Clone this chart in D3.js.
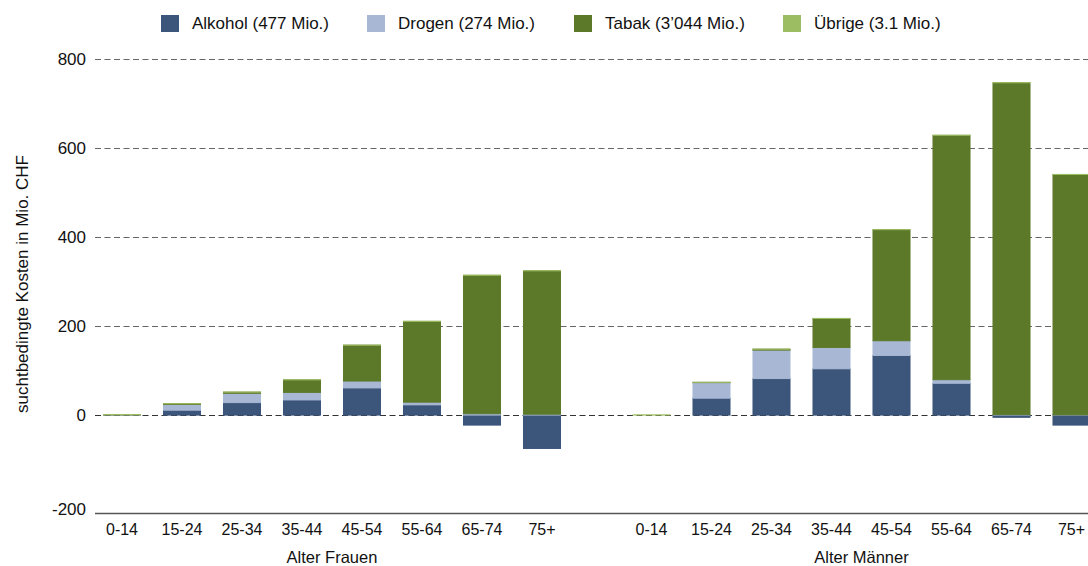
<!DOCTYPE html>
<html>
<head>
<meta charset="utf-8">
<script src="https://cdn.jsdelivr.net/npm/d3@7"></script>
<style>
  body { margin: 0; background: #fff; }
  text { font-family: "Liberation Sans", Arial, Helvetica, sans-serif; fill: #111; }
</style>
</head>
<body>
<div id="chart"></div>
<script>

var ages = ['0-14', '15-24', '25-34', '35-44', '45-54', '55-64', '65-74', '75+'];
var groups = ['Alter Frauen', 'Alter Männer'];
var seriesNames = ['Alkohol (477 Mio.)', 'Drogen (274 Mio.)', 'Tabak (3\u2019044 Mio.)', 'Übrige (3.1 Mio.)'];
var seriesKeys = ['alkohol', 'drogen', 'tabak', 'uebrige'];
var seriesColors = ['#3b557b', '#a8b8d4', '#5c7829', '#9dbd62'];
var yTicks = [-200, 0, 200, 400, 600, 800];

// women first (8 values), then men (8 values)
var alkohol = [0, 11, 28, 34, 61, 23, -22.5, -75,   0, 38, 82, 104, 134, 71.5, -5, -22.5];
var drogen  = [0.3, 13, 21, 17, 15.5, 6, 3, 2,      0, 35, 64, 48, 33, 8, 1, 0.5];
var tabak   = [0.8, 1.5, 2.5, 28, 80.5, 181.5, 311, 322,   0, 0.5, 2, 65, 249.5, 549, 745.5, 540];
var uebrige = [0.2, 0.2, 0.2, 0.2, 0.2, 0.2, 0.2, 0.2,     0.5, 0.2, 0.3, 0.2, 0.2, 0.2, 0.2, 0.2];

var width = 1088;
var height = 566;
var gridLeft = 95;

// build rows for the stack
var rows = [];
groups.forEach(function(g, gi) {
  ages.forEach(function(a, ai) {
    var i = gi * ages.length + ai;
    rows.push({
      group: g, age: a,
      alkohol: alkohol[i], drogen: drogen[i], tabak: tabak[i], uebrige: uebrige[i]
    });
  });
});

var svg = d3.select('#chart').append('svg')
    .attr('width', width)
    .attr('height', height);

var yScale = d3.scaleLinear()
    .domain([-220, 800])
    .range([513, 59]);

// one band scale per group, step 60
var xScales = {};
xScales[groups[0]] = d3.scaleBand().domain(ages).range([92, 572]).paddingInner(0.383).paddingOuter(0.1915);
xScales[groups[1]] = d3.scaleBand().domain(ages).range([621.5, 1101.5]).paddingInner(0.383).paddingOuter(0.1915);

// gridlines
svg.append('g')
    .selectAll('line')
    .data(yTicks.filter(function(d) { return d >= 0; }))
    .enter()
    .append('line')
    .attr('x1', gridLeft)
    .attr('x2', width)
    .attr('y1', function(d) { return Math.round(yScale(d)) + 0.5; })
    .attr('y2', function(d) { return Math.round(yScale(d)) + 0.5; })
    .attr('stroke', function(d) { return d == 0 ? '#333' : '#666'; })
    .attr('stroke-width', 1.2)
    .attr('stroke-dasharray', '6,3.5');

// y axis labels (plain hyphen for negatives, like the original)
var yAxis = svg.append('g')
    .attr('transform', 'translate(' + gridLeft + ',0)')
    .call(d3.axisLeft(yScale).tickValues(yTicks).tickFormat(function(d) { return String(d); })
      .tickSize(0).tickPadding(9));
yAxis.select('.domain').remove();
yAxis.selectAll('text')
    .style('font-size', '17px')
    .attr('fill', '#111')
    .attr('dy', function(d) { return d == -200 ? '0.6em' : '0.33em'; });

svg.append('text')
    .attr('transform', 'translate(22,284) rotate(-90)')
    .attr('text-anchor', 'middle')
    .attr('dy', '0.35em')
    .style('font-size', '17px')
    .text('suchtbedingte Kosten in Mio. CHF');

// stacked bars
var stack = d3.stack().keys(seriesKeys).offset(d3.stackOffsetDiverging);
var layers = stack(rows);

layers.forEach(function(layer, li) {
  svg.append('g')
      .attr('fill', seriesColors[li])
      .attr('stroke', seriesColors[li])
      .attr('stroke-width', 1)
    .selectAll('rect')
    .data(layer)
    .enter()
    .append('rect')
    .attr('x', function(d) { return xScales[d.data.group](d.data.age); })
    .attr('width', function(d) { return xScales[d.data.group].bandwidth(); })
    .attr('y', function(d) { return yScale(Math.max(d[0], d[1])); })
    .attr('height', function(d) { return Math.abs(yScale(d[0]) - yScale(d[1])); });
});

// bottom axis line
svg.append('line')
    .attr('x1', gridLeft)
    .attr('x2', width)
    .attr('y1', 513.5)
    .attr('y2', 513.5)
    .attr('stroke', '#555')
    .attr('stroke-width', 1.5);

// x labels
groups.forEach(function(g) {
  var xs = xScales[g];
  var ax = svg.append('g')
      .attr('transform', 'translate(0,513)')
      .call(d3.axisBottom(xs).tickSize(0).tickPadding(11));
  ax.select('.domain').remove();
  ax.selectAll('text')
      .style('font-size', '16px')
      .attr('fill', '#111');

  var r = xs.range();
  svg.append('text')
      .attr('x', (r[0] + r[1]) / 2)
      .attr('y', 557)
      .attr('dy', '0.35em')
      .attr('text-anchor', 'middle')
      .style('font-size', '16.5px')
      .text(g);
});

// legend
var legendX = [161, 367, 574, 783];
var legend = svg.append('g');
seriesNames.forEach(function(name, i) {
  legend.append('rect')
      .attr('x', legendX[i])
      .attr('y', 15)
      .attr('width', 18)
      .attr('height', 17)
      .attr('fill', seriesColors[i]);
  legend.append('text')
      .attr('x', legendX[i] + 31)
      .attr('y', 23.5)
      .attr('dy', '0.35em')
      .style('font-size', '17px')
      .text(name);
});

</script>
</body>
</html>
